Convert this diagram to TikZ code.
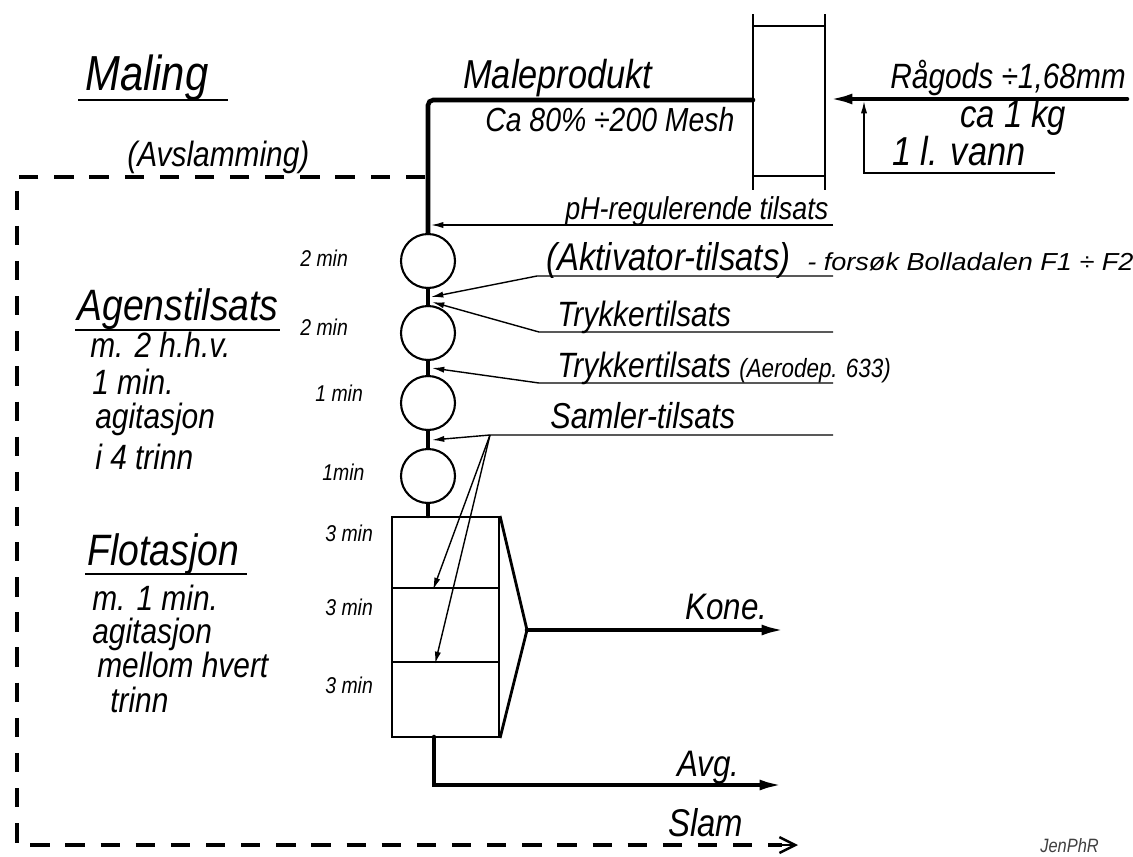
\documentclass[tikz,border=0pt]{standalone}
\usepackage{fontspec}
\newfontfamily\hand{Liberation Sans}[FakeStretch=0.85]
\newfontfamily\handwide{Liberation Sans}[FakeStretch=1.1]
\usetikzlibrary{arrows.meta,calc}
\tikzset{
  main/.style={line width=2.6pt, line cap=round},
  thinline/.style={line width=0.8pt},
  vessel/.style={draw, line width=1.2pt},
  bigarrow/.style={main, -{Latex[length=15pt,width=6pt]}},
  smallarrow/.style={thinline, -{Latex[length=7pt,width=3.5pt]}},
  recycle/.style={line width=2.3pt, dash pattern=on 11pt off 9pt},
  lbl/.style={inner sep=0pt, anchor=base west, font=\hand\itshape\fontsize{19}{19}\selectfont},
  head/.style={lbl, font=\hand\itshape\fontsize{25}{25}\selectfont},
  body/.style={lbl, font=\hand\itshape\fontsize{20}{20}\selectfont},
  small/.style={lbl, font=\hand\itshape\fontsize{13}{13}\selectfont},
  note/.style={lbl, font=\handwide\itshape\fontsize{14}{14}\selectfont},
  tank/.style={circle, vessel, minimum size=1.08cm, inner sep=0pt},
  cell/.style={rectangle, vessel, minimum width=2.14cm, inner sep=0pt},
}
\begin{document}
\begin{tikzpicture}[x=0.02cm, y=-0.02cm]
\useasboundingbox (0,0) rectangle (1133,856);

% ---- mill (drum) ----
\draw[line width=1.1pt] (753,14) -- (753,190) (825,14) -- (825,190)
  (753,26) -- (825,26) (753,176) -- (825,176);
\coordinate (millL) at (753,100);
\coordinate (millR) at (826,99);

% ---- vessels ----
\node[tank] (c1) at (428,261) {};
\node[tank] (c2) at (428,333) {};
\node[tank] (c3) at (428,403) {};
\node[tank] (c4) at (428,476) {};
\node[cell, minimum height=1.42cm] (f1) at (445.5,552.5) {};
\node[cell, minimum height=1.48cm] (f2) at (445.5,625) {};
\node[cell, minimum height=1.50cm] (f3) at (445.5,699.5) {};

% ---- feed ----
\coordinate (rawin) at (1127,99);
\draw[bigarrow] (rawin) -- (millR);
\coordinate (w0) at (1055,173);
\coordinate (wend) at (864,101);
\draw[smallarrow] (w0) -| (wend);

% ---- ground product ----
\draw[main, rounded corners=3pt] (millL) -| (c1.north);
\draw[main] (c1.south) -- (c2.north);
\draw[main] (c2.south) -- (c3.north);
\draw[main] (c3.south) -- (c4.north);
\draw[main] (c4.south) -- (c4.south |- f1.north);

% ---- reagent lines ----
\coordinate (ph0) at (833,225);  \coordinate (ph1) at (431,225);
\draw[smallarrow] (ph0) -- (ph1);
\coordinate (ak0) at (833,276);  \coordinate (ak1) at (537,276);  \coordinate (ak2) at (431,297);
\draw[smallarrow] (ak0) -- (ak1) -- (ak2);
\coordinate (tr0) at (833,332);  \coordinate (tr1) at (539,332);  \coordinate (tr2) at (432,302);
\draw[smallarrow] (tr0) -- (tr1) -- (tr2);
\coordinate (ae0) at (833,383);  \coordinate (ae1) at (539,383);  \coordinate (ae2) at (432,368);
\draw[smallarrow] (ae0) -- (ae1) -- (ae2);
\coordinate (sa0) at (833,435);  \coordinate (sa1) at (490,435);  \coordinate (sa2) at (432,440);
\draw[smallarrow] (sa0) -- (sa1) -- (sa2);
\coordinate (sd1) at (433,590);  \coordinate (sd2) at (435,664);
\draw[smallarrow] (sa1) -- (sd1);
\draw[smallarrow] (sa1) -- (sd2);

% ---- concentrate and tailings ----
\coordinate (fan) at (527,630);
\draw[line width=1.6pt, line join=round] (f1.north east) -- (fan) -- (f3.south east);
\coordinate (konc) at (788,630);
\draw[bigarrow] (fan) -- (konc);
\coordinate (avg0) at (434,737);
\coordinate (avgend) at (786,785);
\draw[bigarrow] (avg0) |- (avgend);

% ---- slime (dashed) ----
\coordinate (d0) at (425,177);
\coordinate (slamend) at (798,845);
\coordinate (slamtail) at (782,845);
\draw[recycle] (d0) -- (17,177) -- (17,845) -- (slamtail);
\draw[line width=1.4pt, -{Straight Barb[length=9pt,width=9pt]}] (slamtail) -- (slamend);

% ---- labels: mill ----
\node[lbl, font=\hand\itshape\fontsize{28}{28}\selectfont] (tMaling) at (85,90) {Maling};
\draw[line width=1.1pt] (78,100) -- (228,100);
\node[body] (tAvsl) at (127,166) {(Avslamming)};
\node[lbl, font=\hand\itshape\fontsize{23}{23}\selectfont] (tMale) at (463,88) {Maleprodukt};
\node[lbl] (tCa80) at (485,131) {Ca 80\% ÷200 Mesh};
\node[lbl, font=\hand\itshape\fontsize{20}{20}\selectfont] (tRaa) at (890,88) {Rågods ÷1,68mm};
\node[lbl, font=\hand\itshape\fontsize{22}{22}\selectfont] (tKg) at (960,127) {ca 1 kg};
\node[lbl, font=\hand\itshape\fontsize{23}{23}\selectfont] (tVann) at (892,165) {1 l. vann};

% ---- labels: reagents ----
\node[lbl, font=\hand\itshape\fontsize{18}{18}\selectfont] (tPH) at (565,219) {pH-regulerende tilsats};
\node[lbl, font=\hand\itshape\fontsize{22}{22}\selectfont] (tAkt) at (546,270) {(Aktivator-tilsats)};
\node[note] (tFors) at (807,270) {- forsøk Bolladalen F1 ÷ F2};
\node[lbl, font=\hand\itshape\fontsize{20}{20}\selectfont] (tTr1) at (557,326) {Trykkertilsats};
\node[lbl, font=\hand\itshape\fontsize{20}{20}\selectfont] (tTr2) at (557,377) {Trykkertilsats {\fontsize{15}{15}\selectfont(Aerodep. 633)}};
\node[lbl, font=\hand\itshape\fontsize{20.5}{20.5}\selectfont] (tSam) at (550,428) {Samler-tilsats};

% ---- labels: times ----
\node[small] (m1) at (300,266) {2 min};
\node[small] (m2) at (300,335) {2 min};
\node[small] (m3) at (315,401) {1 min};
\node[small] (m4) at (322,480) {1min};
\node[small] (m5) at (325,541) {3 min};
\node[small] (m6) at (325,615) {3 min};
\node[small] (m7) at (325,693) {3 min};

% ---- labels: left ----
\node[head] (tAgens) at (77,320) {Agenstilsats};
\draw[line width=1.1pt] (75,330) -- (280,330);
\node[body] (a1) at (90,357) {m. 2 h.h.v.};
\node[body] (a2) at (92,394) {1 min.};
\node[body] (a3) at (95,428) {agitasjon};
\node[body] (a4) at (95,469) {i 4 trinn};
\node[head] (tFlot) at (87,565) {Flotasjon};
\draw[line width=1.1pt] (85,574) -- (247,574);
\node[body] (b1) at (92,610) {m. 1 min.};
\node[body] (b2) at (92,643) {agitasjon};
\node[body] (b3) at (97,677) {mellom hvert};
\node[body] (b4) at (110,712) {trinn};

% ---- labels: products ----
\node[lbl, font=\hand\itshape\fontsize{21}{21}\selectfont] (tKonc) at (685,619) {Kone.};
\node[lbl, font=\hand\itshape\fontsize{21}{21}\selectfont] (tAvg) at (677,776) {Avg.};
\node[lbl, font=\hand\itshape\fontsize{22}{22}\selectfont] (tSlam) at (668,836) {Slam};
\node[lbl, font=\hand\itshape\fontsize{11}{11}\selectfont, text=black!75] (sig) at (1040,852) {JenPhR};
\end{tikzpicture}
\end{document}
